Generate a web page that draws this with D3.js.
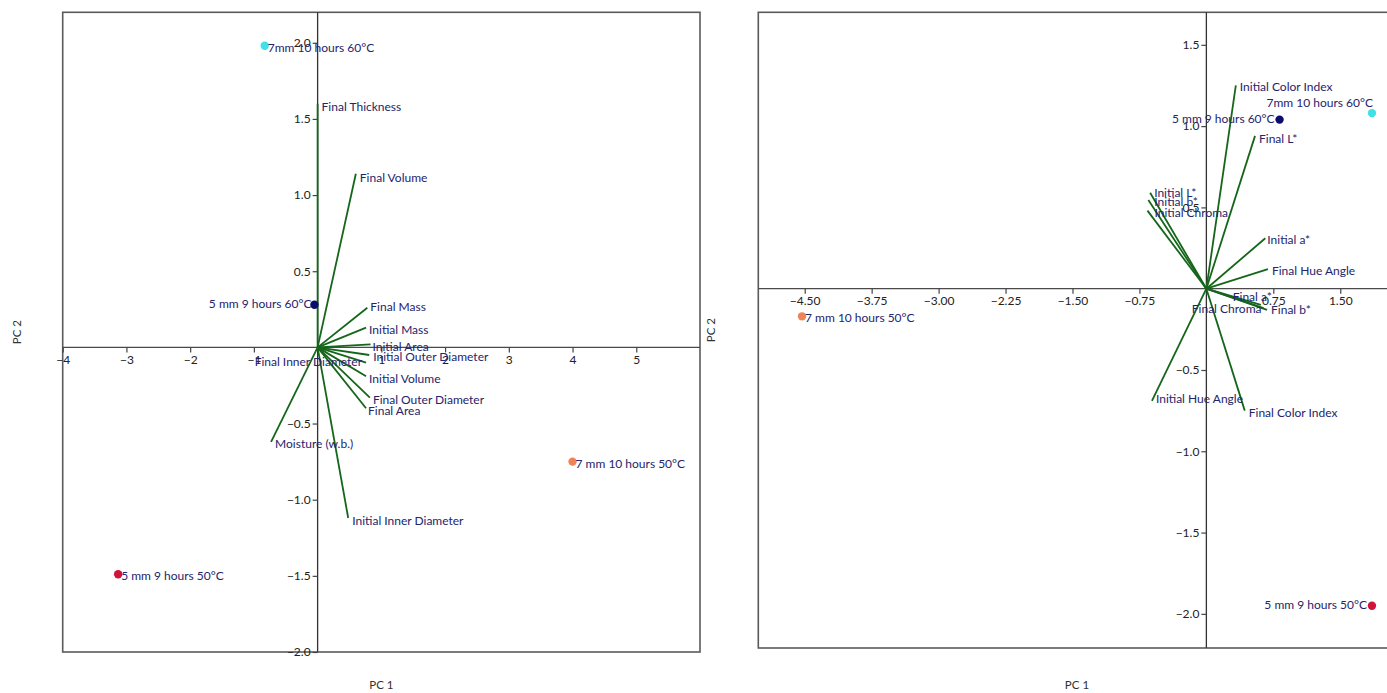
<!DOCTYPE html>
<html>
<head>
<meta charset="utf-8">
<script src="https://cdn.jsdelivr.net/npm/d3@7"></script>
<style>
  html, body { margin: 0; padding: 0; background: #fff; }
  svg { display: block; }
</style>
</head>
<body>
<svg id="chart" width="1387" height="693"></svg>
<script>
// ---------------- DATA ----------------
// Left biplot (size / mass attributes)
const leftSamples = ["7mm 10 hours 60°C", "5 mm 9 hours 60°C", "7 mm 10 hours 50°C", "5 mm 9 hours 50°C"];
const leftSamplePC1 = [-0.83, -0.05, 4.00, -3.13];
const leftSamplePC2 = [1.98, 0.28, -0.75, -1.49];

const leftVariables = ["Final Thickness", "Final Volume", "Final Mass", "Initial Mass", "Initial Area",
  "Initial Outer Diameter", "Final Inner Diameter", "Initial Volume", "Final Outer Diameter",
  "Final Area", "Moisture (w.b.)", "Initial Inner Diameter"];
const leftLoadPC1 = [0.00, 0.60, 0.78, 0.76, 0.83, 0.81, 0.76, 0.76, 0.82, 0.76, -0.73, 0.48];
const leftLoadPC2 = [1.60, 1.14, 0.26, 0.13, 0.02, -0.05, -0.10, -0.19, -0.33, -0.40, -0.62, -1.12];

const leftXTicks = [-4, -3, -2, -1, 1, 2, 3, 4, 5];
const leftYTicks = [2.0, 1.5, 1.0, 0.5, -0.5, -1.0, -1.5, -2.0];

// Right biplot (colour attributes)
const rightSamples = ["7mm 10 hours 60°C", "5 mm 9 hours 60°C", "7 mm 10 hours 50°C", "5 mm 9 hours 50°C"];
const rightSamplePC1 = [1.855, 0.82, -4.53, 1.855];
const rightSamplePC2 = [1.08, 1.04, -0.17, -1.95];

const rightVariables = ["Initial Color Index", "Final L*", "Initial L*", "Initial b*", "Initial Chroma",
  "Initial a*", "Final Hue Angle", "Final a*", "Final Chroma", "Final b*",
  "Initial Hue Angle", "Final Color Index"];
const rightLoadPC1 = [0.33, 0.545, -0.63, -0.65, -0.66, 0.66, 0.69, 0.61, 0.64, 0.68, -0.61, 0.43];
const rightLoadPC2 = [1.25, 0.94, 0.59, 0.545, 0.48, 0.31, 0.12, -0.10, -0.12, -0.13, -0.69, -0.75];

const rightXTicks = [-4.5, -3.75, -3.0, -2.25, -1.5, -0.75, 0.75, 1.5];
const rightYTicks = [1.5, 1.0, 0.5, -0.5, -1.0, -1.5, -2.0];

// ---------------- STYLE / LAYOUT ----------------
const sampleColors = ["#3fe0e6", "#0c0c6e", "#ee8455", "#d2123c"];
const textColor = "#24246c";
const loadColor = "#15661a";
const font = "Lato, 'Open Sans', 'Liberation Sans', sans-serif";

// label placement: [anchor, dx, dy]
const leftSampleLabelPos = [["start", 3, 3], ["end", -3, 0], ["start", 3, 3], ["start", 3, 3]];
const leftVarLabelPos = [["start", 4, 4], ["start", 4, 5], ["start", 3, 0], ["start", 3, 3], ["start", 2, 4],
  ["start", 4, 3], ["end", -4, 0], ["start", 3, 4], ["start", 3, 3], ["start", 2, 4], ["start", 4, 3], ["start", 4, 4]];
const rightSampleLabelPos = [["end", 1, -9], ["end", -5, 0], ["start", 3, 3], ["end", -5, 0]];
const rightVarLabelPos = [["start", 4, 3], ["start", 4, 4], ["start", 4, 1], ["start", 6, 3], ["start", 7, 3],
  ["start", 2, 3], ["start", 4, 3], ["end", 11, -7], ["end", -2, 2], ["start", 4, 1],
  ["start", 4, -1], ["start", 4, 3]];

const svg = d3.select("#chart");

function drawPanel(cfg) {
  const g = svg.append("g");
  const x = d3.scaleLinear().domain(cfg.xDomain).range(cfg.xRange);
  const y = d3.scaleLinear().domain(cfg.yDomain).range(cfg.yRange);
  const [x0, x1] = cfg.xRange, [y1, y0] = cfg.yRange;

  // frame
  g.append("rect")
    .attr("x", x0).attr("y", y0)
    .attr("width", x1 - x0).attr("height", y1 - y0)
    .attr("fill", "none").attr("stroke", "#5a5a5a").attr("stroke-width", 1.6);

  // zero lines
  g.append("line").attr("x1", x0).attr("x2", x1).attr("y1", y(0)).attr("y2", y(0))
    .attr("stroke", "#4a4a4a").attr("stroke-width", 1.3);
  g.append("line").attr("x1", x(0)).attr("x2", x(0)).attr("y1", y0).attr("y2", y1)
    .attr("stroke", "#333").attr("stroke-width", 1.3);

  // axes
  const xAxis = d3.axisBottom(x).tickValues(cfg.xTicks).tickFormat(d3.format(cfg.xFmt))
    .tickSize(5).tickSizeOuter(0).tickPadding(3);
  const yAxis = d3.axisLeft(y).tickValues(cfg.yTicks).tickFormat(d3.format(".1f"))
    .tickSize(5).tickSizeOuter(0).tickPadding(2);
  const gx = g.append("g").attr("transform", `translate(0,${y(0)})`).call(xAxis);
  const gy = g.append("g").attr("transform", `translate(${x(0)},0)`).call(yAxis);
  [gx, gy].forEach(a => {
    a.select(".domain").remove();
    a.selectAll(".tick line").attr("stroke", "#444").attr("stroke-width", 1.2);
    a.selectAll(".tick text").attr("fill", "#222").style("font-family", font).style("font-size", "12px");
  });

  // loadings
  const loads = cfg.vars.map((name, i) => ({ name, pc1: cfg.l1[i], pc2: cfg.l2[i], pos: cfg.varPos[i] }));
  g.append("g").selectAll("line").data(loads).join("line")
    .attr("x1", x(0)).attr("y1", y(0))
    .attr("x2", d => x(d.pc1)).attr("y2", d => y(d.pc2))
    .attr("stroke", loadColor).attr("stroke-width", 1.8);
  g.append("g").selectAll("text").data(loads).join("text")
    .attr("x", d => x(d.pc1) + d.pos[1]).attr("y", d => y(d.pc2) + d.pos[2])
    .attr("text-anchor", d => d.pos[0]).attr("dominant-baseline", "middle")
    .attr("fill", textColor).style("font-family", font).style("font-size", "12px")
    .text(d => d.name);

  // samples
  const samples = cfg.samples.map((name, i) => ({ name, pc1: cfg.s1[i], pc2: cfg.s2[i], color: sampleColors[i], pos: cfg.samplePos[i] }));
  g.append("g").selectAll("circle").data(samples).join("circle")
    .attr("cx", d => x(d.pc1)).attr("cy", d => y(d.pc2)).attr("r", 4.2)
    .attr("fill", d => d.color);
  g.append("g").selectAll("text").data(samples).join("text")
    .attr("x", d => x(d.pc1) + d.pos[1]).attr("y", d => y(d.pc2) + d.pos[2])
    .attr("text-anchor", d => d.pos[0]).attr("dominant-baseline", "middle")
    .attr("fill", textColor).style("font-family", font).style("font-size", "12px")
    .text(d => d.name);

  // axis titles
  g.append("text").attr("x", (x0 + x1) / 2).attr("y", 689).attr("text-anchor", "middle")
    .attr("fill", "#333").style("font-family", font).style("font-size", "11.5px").text("PC 1");
  g.append("text").attr("transform", `translate(${cfg.pc2X},${(y0 + y1) / 2}) rotate(-90)`)
    .attr("text-anchor", "middle").attr("dominant-baseline", "middle")
    .attr("fill", "#333").style("font-family", font).style("font-size", "11.5px").text("PC 2");
}

drawPanel({
  xDomain: [-4, 6], xRange: [62.7, 700],
  yDomain: [-2, 2.2], yRange: [652, 12.3],
  xTicks: leftXTicks, yTicks: leftYTicks, xFmt: "d",
  vars: leftVariables, l1: leftLoadPC1, l2: leftLoadPC2, varPos: leftVarLabelPos,
  samples: leftSamples, s1: leftSamplePC1, s2: leftSamplePC2, samplePos: leftSampleLabelPos,
  pc2X: 18
});

drawPanel({
  xDomain: [-5.02, 2.12], xRange: [758.3, 1395.6],
  yDomain: [-2.21, 1.70], yRange: [648, 12.3],
  xTicks: rightXTicks, yTicks: rightYTicks, xFmt: ".2f",
  vars: rightVariables, l1: rightLoadPC1, l2: rightLoadPC2, varPos: rightVarLabelPos,
  samples: rightSamples, s1: rightSamplePC1, s2: rightSamplePC2, samplePos: rightSampleLabelPos,
  pc2X: 712
});
</script>
</body>
</html>
